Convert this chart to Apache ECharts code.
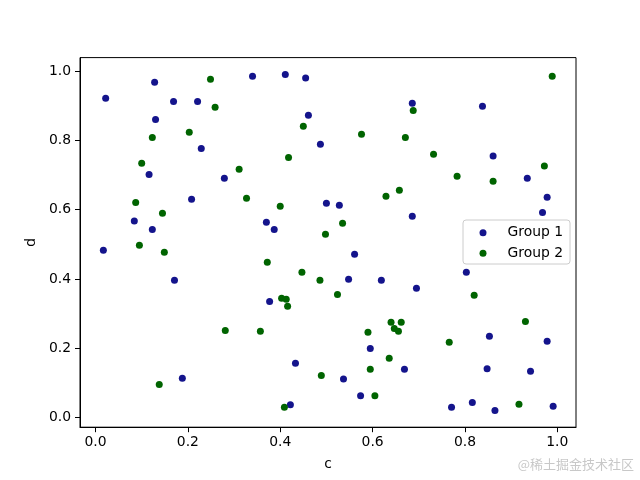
<!DOCTYPE html>
<html>
<head>
<meta charset="utf-8">
<script src="https://cdn.jsdelivr.net/npm/echarts@6/dist/echarts.min.js"></script>
<style>html,body{margin:0;padding:0;background:#fff}#c{width:640px;height:480px}</style>
</head>
<body>
<div id="c"></div>
<script>
const seriesNames = ['Group 1', 'Group 2'];
const group1X = [0.128,0.022,0.169,0.221,0.130,0.229,0.116,0.279,0.208,0.084,0.123,0.017,0.171,0.188,0.340,0.411,0.455,0.461,0.487,0.500,0.528,0.370,0.387,0.686,0.838,0.861,0.935,0.978,0.968,0.686,0.561,0.377,0.548,0.619,0.595,0.433,0.669,0.537,0.574,0.422,0.803,0.695,0.853,0.978,0.848,0.942,0.771,0.816,0.865,0.991];
const group1Y = [0.968,0.922,0.913,0.913,0.861,0.777,0.702,0.691,0.630,0.567,0.543,0.483,0.396,0.113,0.986,0.991,0.981,0.873,0.789,0.619,0.613,0.564,0.543,0.908,0.899,0.755,0.691,0.636,0.592,0.581,0.471,0.335,0.399,0.396,0.199,0.156,0.139,0.111,0.062,0.036,0.419,0.373,0.234,0.220,0.140,0.133,0.029,0.043,0.020,0.032];
const group2X = [0.249,0.259,0.203,0.123,0.100,0.311,0.327,0.087,0.145,0.095,0.149,0.281,0.138,0.450,0.576,0.671,0.418,0.400,0.629,0.658,0.535,0.498,0.989,0.688,0.732,0.783,0.861,0.972,0.372,0.447,0.486,0.524,0.403,0.413,0.416,0.357,0.590,0.640,0.662,0.647,0.656,0.636,0.595,0.489,0.605,0.409,0.820,0.931,0.766,0.917];
const group2Y = [0.977,0.896,0.824,0.809,0.734,0.717,0.633,0.621,0.590,0.497,0.477,0.251,0.095,0.841,0.818,0.809,0.751,0.610,0.639,0.656,0.561,0.529,0.986,0.887,0.760,0.697,0.682,0.726,0.448,0.419,0.396,0.355,0.344,0.341,0.321,0.249,0.246,0.275,0.275,0.257,0.249,0.171,0.139,0.121,0.062,0.029,0.353,0.277,0.217,0.038];
const tickValues = [0, 0.2, 0.4, 0.6, 0.8, 1.0];
const xName = 'c';
const yName = 'd';
const watermark = '@稀土掘金技术社区';

const font = 'DejaVu Sans';
const zip = (xs, ys) => xs.map((x, i) => [x, ys[i]]);
const axisCommon = {
  axisLine: {show: true, onZero: false, lineStyle: {color: '#000', width: 1}},
  axisTick: {show: true, inside: false, length: 5, lineStyle: {color: '#000', width: 1}, customValues: tickValues},
  axisLabel: {color: '#000', fontFamily: font, fontSize: 13.9, customValues: tickValues, formatter: v => v.toFixed(1)},
  splitLine: {show: false},
  nameTextStyle: {color: '#000', fontFamily: font, fontSize: 13.9}
};
const chart = echarts.init(document.getElementById('c'), null, {renderer: 'canvas'});
chart.setOption({
  animation: false,
  backgroundColor: '#fff',
  grid: {left: 80, top: 57.6, right: 64, bottom: 52.8, show: true, borderColor: '#000', borderWidth: 1, backgroundColor: 'transparent', containLabel: false},
  xAxis: Object.assign({}, axisCommon, {type: 'value', min: -0.0336, max: 1.0405, name: xName, nameLocation: 'middle', nameGap: 30,
    axisLabel: Object.assign({}, axisCommon.axisLabel, {margin: 8})}),
  yAxis: Object.assign({}, axisCommon, {type: 'value', min: -0.0286, max: 1.0396, name: yName, nameLocation: 'middle', nameGap: 37,
    axisLabel: Object.assign({}, axisCommon.axisLabel, {margin: 9})}),
  legend: {
    left: 463, top: 220, orient: 'vertical',
    data: seriesNames.map(n => ({name: n, icon: 'circle'})),
    itemWidth: 7, itemHeight: 7, itemGap: 6.6,
    padding: [5.7, 7, 3.7, 16.5],
    borderColor: '#cccccc', borderWidth: 1, borderRadius: 3, backgroundColor: 'rgba(255,255,255,0.8)',
    textStyle: {color: '#000', fontFamily: font, fontSize: 13.9, lineHeight: 14, padding: [0, 0, 0, 16]}
  },
  series: [
    {name: seriesNames[0], type: 'scatter', data: zip(group1X, group1Y), symbol: 'circle', symbolSize: 7, itemStyle: {color: '#14148c', opacity: 1}},
    {name: seriesNames[1], type: 'scatter', data: zip(group2X, group2Y), symbol: 'circle', symbolSize: 7, itemStyle: {color: '#006400', opacity: 1}}
  ],
  graphic: [{type: 'text', right: 6, top: 458, style: {text: watermark, fill: '#c8c8c8', font: '13px "Noto Sans CJK SC"'}}]
});
</script>
</body>
</html>
